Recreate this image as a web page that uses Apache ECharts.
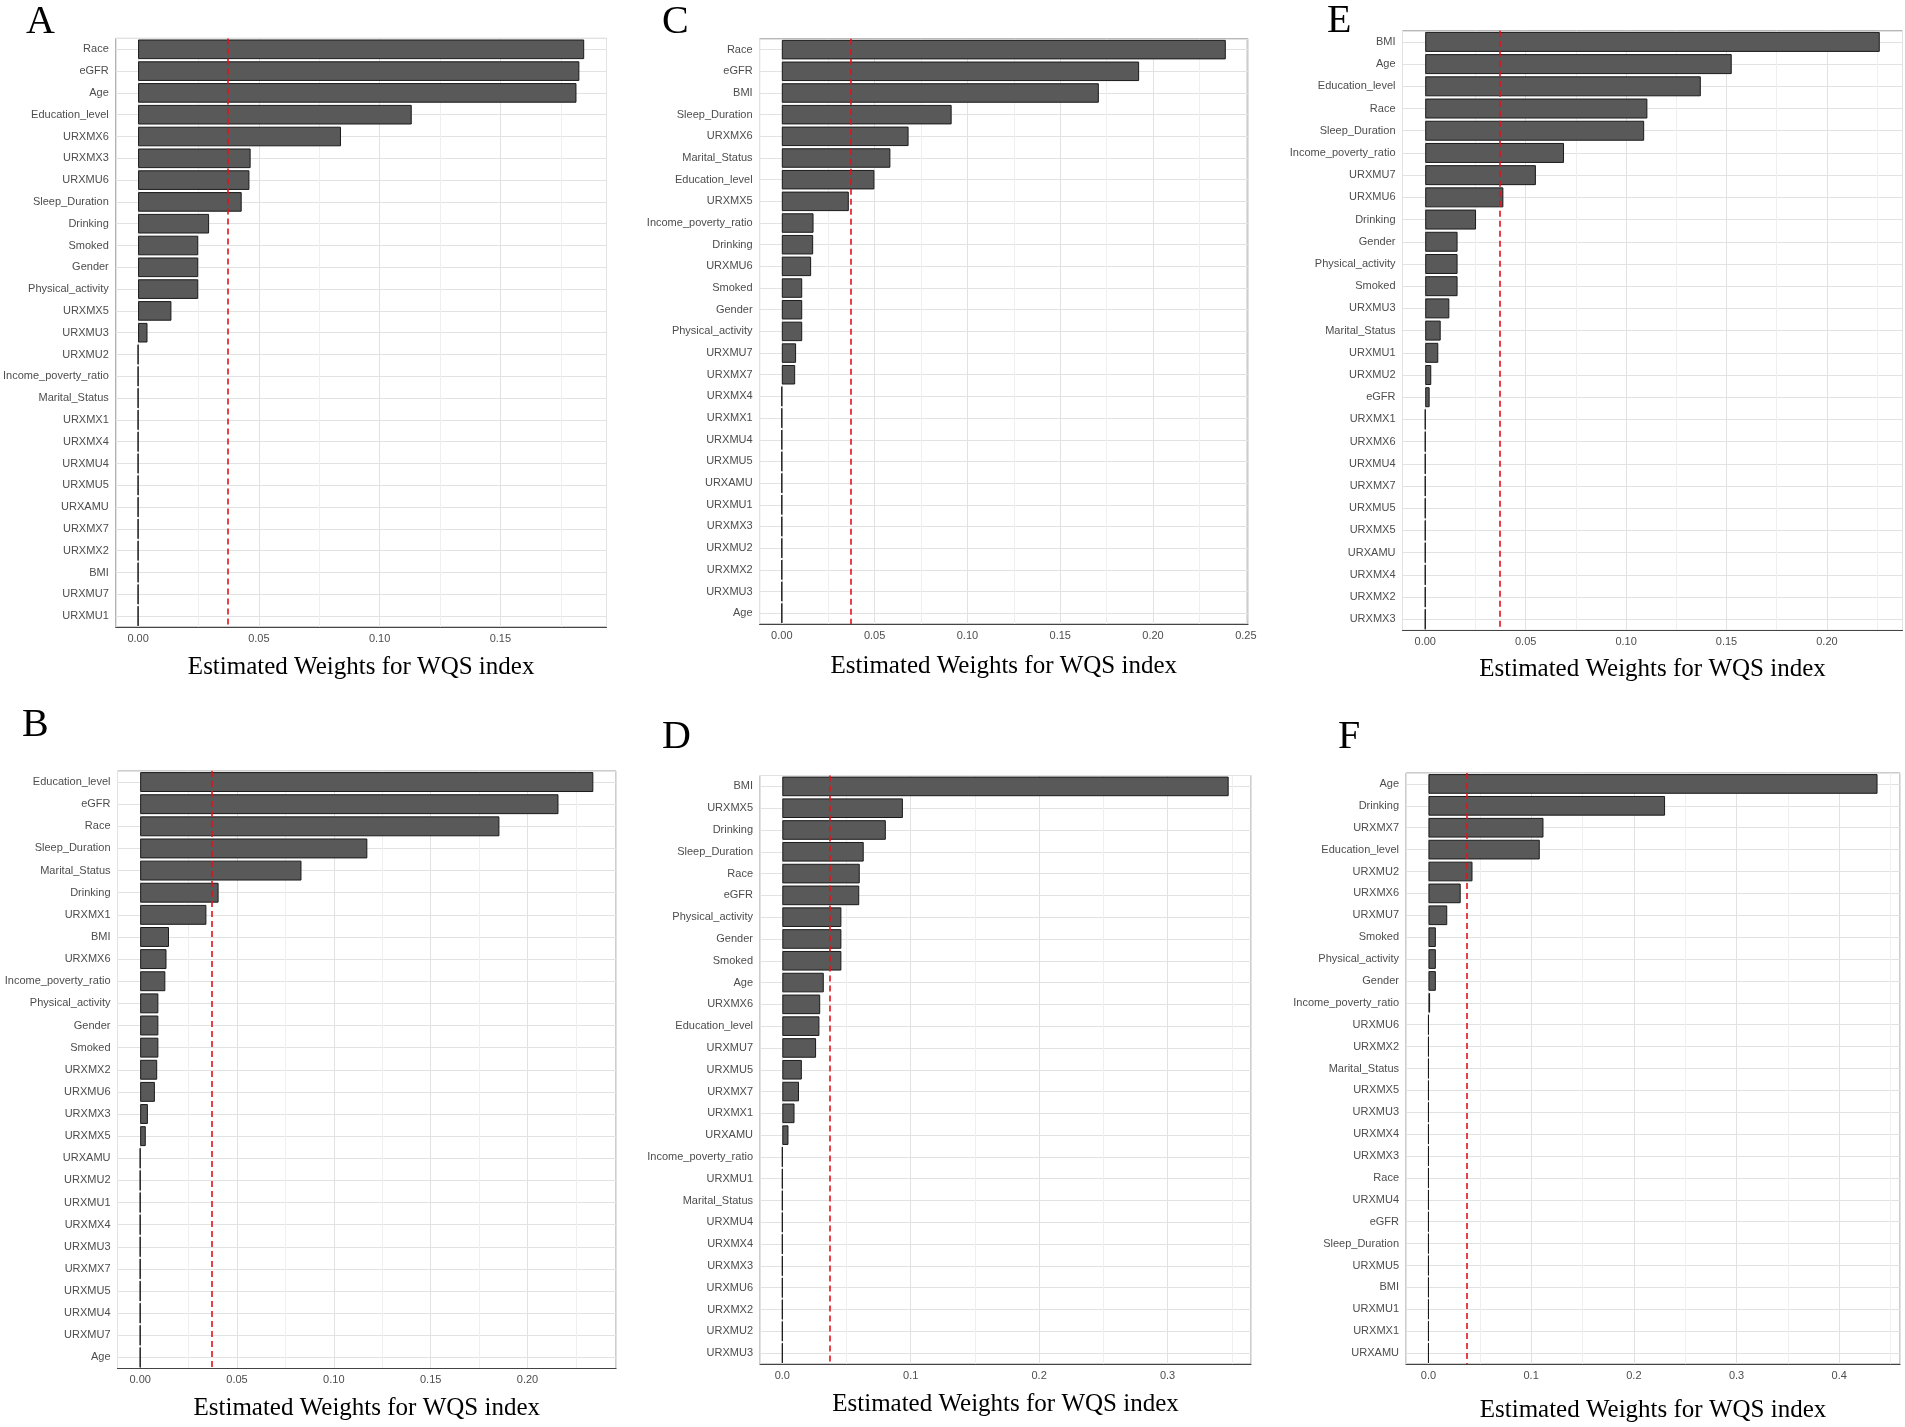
<!DOCTYPE html>
<html>
<head>
<meta charset="utf-8">
<script src="https://cdn.jsdelivr.net/npm/echarts@6/dist/echarts.min.js"></script>
<style>
html, body { margin: 0; padding: 0; background: #fff; }
#chart { width: 1905px; height: 1427px; }
</style>
</head>
<body>
<div id="chart"></div>
<script>
// panel A
var namesA = ['Race', 'eGFR', 'Age', 'Education_level', 'URXMX6', 'URXMX3', 'URXMU6', 'Sleep_Duration', 'Drinking',
    'Smoked', 'Gender', 'Physical_activity', 'URXMX5', 'URXMU3', 'URXMU2', 'Income_poverty_ratio', 'Marital_Status',
    'URXMX1', 'URXMX4', 'URXMU4', 'URXMU5', 'URXAMU', 'URXMX7', 'URXMX2', 'BMI', 'URXMU7', 'URXMU1'];
var weightsA = [0.1847, 0.1827, 0.1815, 0.1133, 0.0840, 0.0466, 0.0461, 0.0429, 0.0294,
    0.0249, 0.0249, 0.0249, 0.0138, 0.0039, 0, 0, 0,
    0, 0, 0, 0, 0, 0, 0, 0, 0, 0];

// panel B
var namesB = ['Education_level', 'eGFR', 'Race', 'Sleep_Duration', 'Marital_Status', 'Drinking', 'URXMX1', 'BMI', 'URXMX6',
    'Income_poverty_ratio', 'Physical_activity', 'Gender', 'Smoked', 'URXMX2', 'URXMU6', 'URXMX3', 'URXMX5',
    'URXAMU', 'URXMU2', 'URXMU1', 'URXMX4', 'URXMU3', 'URXMX7', 'URXMU5', 'URXMU4', 'URXMU7', 'Age'];
var weightsB = [0.2340, 0.2160, 0.1855, 0.1173, 0.0833, 0.0405, 0.0342, 0.0149, 0.0136,
    0.0130, 0.0094, 0.0094, 0.0094, 0.0088, 0.0076, 0.0040, 0.0029,
    0, 0, 0, 0, 0, 0, 0, 0, 0, 0];

// panel C
var namesC = ['Race', 'eGFR', 'BMI', 'Sleep_Duration', 'URXMX6', 'Marital_Status', 'Education_level', 'URXMX5',
    'Income_poverty_ratio', 'Drinking', 'URXMU6', 'Smoked', 'Gender', 'Physical_activity', 'URXMU7', 'URXMX7',
    'URXMX4', 'URXMX1', 'URXMU4', 'URXMU5', 'URXAMU', 'URXMU1', 'URXMX3', 'URXMU2', 'URXMX2', 'URXMU3', 'Age'];
var weightsC = [0.2392, 0.1925, 0.1708, 0.0915, 0.0683, 0.0585, 0.0499, 0.0361,
    0.0171, 0.0169, 0.0158, 0.0110, 0.0110, 0.0110, 0.0077, 0.0072,
    0, 0, 0, 0, 0, 0, 0, 0, 0, 0, 0];

// panel D
var namesD = ['BMI', 'URXMX5', 'Drinking', 'Sleep_Duration', 'Race', 'eGFR', 'Physical_activity', 'Gender', 'Smoked',
    'Age', 'URXMX6', 'Education_level', 'URXMU7', 'URXMU5', 'URXMX7', 'URXMX1', 'URXAMU',
    'Income_poverty_ratio', 'URXMU1', 'Marital_Status', 'URXMU4', 'URXMX4', 'URXMX3', 'URXMU6', 'URXMX2', 'URXMU2', 'URXMU3'];
var weightsD = [0.3476, 0.0939, 0.0806, 0.0634, 0.0603, 0.0599, 0.0460, 0.0460, 0.0460,
    0.0323, 0.0295, 0.0289, 0.0263, 0.0152, 0.0130, 0.0095, 0.0048,
    0, 0, 0, 0, 0, 0, 0, 0, 0, 0];

// panel E
var namesE = ['BMI', 'Age', 'Education_level', 'Race', 'Sleep_Duration', 'Income_poverty_ratio', 'URXMU7', 'URXMU6',
    'Drinking', 'Gender', 'Physical_activity', 'Smoked', 'URXMU3', 'Marital_Status', 'URXMU1', 'URXMU2', 'eGFR',
    'URXMX1', 'URXMX6', 'URXMU4', 'URXMX7', 'URXMU5', 'URXMX5', 'URXAMU', 'URXMX4', 'URXMX2', 'URXMX3'];
var weightsE = [0.2263, 0.1526, 0.1372, 0.1106, 0.1090, 0.0691, 0.0551, 0.0389,
    0.0253, 0.0161, 0.0161, 0.0161, 0.0120, 0.0077, 0.0065, 0.0030, 0.0022,
    0, 0, 0, 0, 0, 0, 0, 0, 0, 0];

// panel F
var namesF = ['Age', 'Drinking', 'URXMX7', 'Education_level', 'URXMU2', 'URXMX6', 'URXMU7', 'Smoked', 'Physical_activity',
    'Gender', 'Income_poverty_ratio', 'URXMU6', 'URXMX2', 'Marital_Status', 'URXMX5', 'URXMU3', 'URXMX4', 'URXMX3',
    'Race', 'URXMU4', 'eGFR', 'Sleep_Duration', 'URXMU5', 'BMI', 'URXMU1', 'URXMX1', 'URXAMU'];
var weightsF = [0.4373, 0.2304, 0.1120, 0.1084, 0.0429, 0.0314, 0.0183, 0.0072, 0.0072,
    0.0072, 0.0016, 0, 0, 0, 0, 0, 0, 0,
    0, 0, 0, 0, 0, 0, 0, 0, 0];

var threshold = 0.037;   // red dashed cut-off line
var axisTitle = 'Estimated Weights for WQS index';

// layout of the six panels (pixels)
var panels = [
    { letter: 'A', names: namesA, weights: weightsA, step: 0.05, digits: 2, box: [114.7, 38.4, 491.8, 588.6], at: [26, 2], gap: 28 },
    { letter: 'C', names: namesC, weights: weightsC, step: 0.05, digits: 2, box: [759.6, 38.8, 488.4, 585.2], at: [662, 2], gap: 30 },
    { letter: 'E', names: namesE, weights: weightsE, step: 0.05, digits: 2, box: [1402.5, 30.8, 500, 599.6], at: [1327, 1], gap: 27 },
    { letter: 'B', names: namesB, weights: weightsB, step: 0.05, digits: 2, box: [117.5, 771, 498.5, 597.5], at: [22, 705], gap: 27 },
    { letter: 'D', names: namesD, weights: weightsD, step: 0.1, digits: 1, box: [760, 775.5, 491, 588.5], at: [662, 717], gap: 27.5 },
    { letter: 'F', names: namesF, weights: weightsF, step: 0.1, digits: 1, box: [1406, 773, 494, 591], at: [1338, 717], gap: 34 }
];

var labelFont = 'Liberation Sans';
var titleFont = 'Liberation Serif';

var grids = [], xAxes = [], yAxes = [], series = [], titles = [];

panels.forEach(function (p, i) {
    titles.push({
        text: p.letter, left: p.at[0], top: p.at[1], padding: 0,
        textStyle: { fontFamily: titleFont, fontSize: 40, fontWeight: 'normal', color: '#000' }
    });
    grids.push({
        left: p.box[0], top: p.box[1], width: p.box[2], height: p.box[3],
        show: true, backgroundColor: '#fff', borderColor: '#9a9a9a', borderWidth: 1
    });
    xAxes.push({
        type: 'value', gridIndex: i,
        min: function (e) { return -0.05 * e.max; },   // ggplot style 5% expansion
        max: function (e) { return 1.05 * e.max; },
        minInterval: p.step, maxInterval: p.step,
        axisLine: { show: true, onZero: false, lineStyle: { color: '#444', width: 1.2 } },
        axisTick: { show: false },
        axisLabel: {
            showMinLabel: false, showMaxLabel: false, margin: 6,
            fontSize: 11, color: '#4d4d4d', fontFamily: labelFont,
            formatter: function (v) { return v.toFixed(p.digits); }
        },
        splitLine: { show: true, lineStyle: { color: '#e2e2e2', width: 1 } },
        minorTick: { show: false, splitNumber: 2 },
        minorSplitLine: { show: true, lineStyle: { color: '#efefef', width: 1 } },
        name: axisTitle, nameLocation: 'middle', nameGap: p.gap,
        nameTextStyle: { fontFamily: titleFont, fontSize: 25, color: '#000' }
    });
    // category labels
    yAxes.push({
        type: 'category', gridIndex: i, data: p.names, inverse: true,
        axisLine: { show: false }, axisTick: { show: false },
        axisLabel: { interval: 0, margin: 7, fontSize: 11, color: '#4d4d4d', fontFamily: labelFont },
        splitLine: { show: false }
    });
    // helper axis: horizontal grid lines through the bar centres
    yAxes.push({
        type: 'value', gridIndex: i, min: -0.5, max: p.names.length - 0.5,
        minInterval: 1, maxInterval: 1,
        axisLine: { show: false }, axisTick: { show: false }, axisLabel: { show: false },
        splitLine: { show: true, lineStyle: { color: '#e2e2e2', width: 1 } }
    });
    series.push({
        type: 'bar', xAxisIndex: i, yAxisIndex: 2 * i,
        data: p.weights, barCategoryGap: '10%', silent: true,
        itemStyle: { color: '#595959', borderColor: '#1a1a1a', borderWidth: 1 },
        markLine: {
            silent: true, symbol: 'none', precision: 4, label: { show: false },
            lineStyle: { color: '#e3121b', type: [6, 4], width: 1.6 },
            data: [{ xAxis: threshold }]
        }
    });
});

var chart = echarts.init(document.getElementById('chart'));
var option = {
    backgroundColor: '#fff',
    animation: false,
    title: titles,
    grid: grids,
    xAxis: xAxes,
    yAxis: yAxes,
    series: series
};
chart.setOption(option);
</script>
</body>
</html>
